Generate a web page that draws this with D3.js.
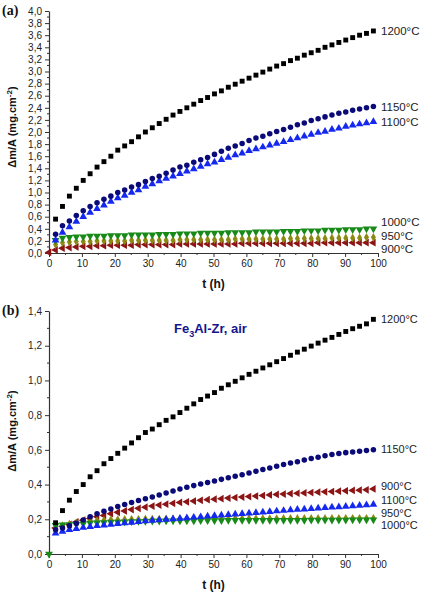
<!DOCTYPE html>
<html><head><meta charset="utf-8">
<script src="https://cdn.jsdelivr.net/npm/d3@7/dist/d3.min.js"></script>
<style>body{margin:0;background:#fff}svg{display:block}</style>
</head><body>
<script>
// time points (h); first entry is the origin point
const times = [0, 2.0,4.1,6.2,8.3,10.4,12.5,14.6,16.7,18.8,20.9,23.0,25.1,27.2,29.3,31.4,33.5,35.6,37.7,39.8,41.9,44.0,46.1,48.2,50.3,52.4,54.5,56.6,58.7,60.8,62.9,65.0,67.1,69.2,71.3,73.4,75.5,77.6,79.7,81.8,83.9,86.0,88.1,90.2,92.3,94.4,96.5,98.6];
const seriesNames = ["1200°C","1150°C","1100°C","1000°C","950°C","900°C"];

// Panel (a)
const a1200 = [null,0.56,0.77,0.94,1.07,1.20,1.31,1.42,1.51,1.60,1.70,1.77,1.84,1.92,2.00,2.07,2.14,2.21,2.28,2.34,2.40,2.46,2.52,2.57,2.63,2.68,2.74,2.79,2.84,2.89,2.94,2.99,3.04,3.09,3.13,3.18,3.22,3.27,3.31,3.35,3.40,3.44,3.48,3.52,3.56,3.60,3.63,3.67];
const a1150 = [null,0.31,0.45,0.53,0.62,0.70,0.77,0.83,0.89,0.94,1.00,1.04,1.09,1.13,1.18,1.23,1.27,1.32,1.37,1.42,1.45,1.50,1.54,1.58,1.63,1.68,1.73,1.77,1.81,1.86,1.90,1.93,1.97,2.01,2.04,2.08,2.12,2.15,2.19,2.22,2.25,2.28,2.31,2.33,2.36,2.38,2.40,2.42];
const a1100 = [null,0.21,0.34,0.43,0.52,0.60,0.67,0.73,0.79,0.85,0.91,0.95,1.00,1.04,1.10,1.14,1.19,1.23,1.27,1.31,1.35,1.39,1.43,1.47,1.50,1.54,1.58,1.62,1.65,1.69,1.72,1.75,1.78,1.81,1.84,1.87,1.90,1.93,1.96,1.99,2.01,2.04,2.06,2.09,2.11,2.13,2.15,2.17];
const a1000 = [null,0.21,0.25,0.26,0.27,0.27,0.28,0.28,0.28,0.29,0.29,0.29,0.30,0.30,0.30,0.30,0.31,0.31,0.31,0.32,0.32,0.32,0.33,0.33,0.33,0.33,0.34,0.34,0.34,0.34,0.35,0.35,0.35,0.35,0.36,0.36,0.36,0.37,0.37,0.37,0.38,0.38,0.38,0.39,0.39,0.39,0.40,0.40];
const a950 = [null,0.14,0.17,0.18,0.19,0.19,0.19,0.20,0.20,0.20,0.20,0.20,0.21,0.21,0.21,0.21,0.21,0.21,0.21,0.22,0.22,0.22,0.22,0.22,0.22,0.22,0.22,0.23,0.23,0.23,0.23,0.23,0.23,0.23,0.23,0.24,0.24,0.24,0.24,0.24,0.24,0.25,0.25,0.25,0.25,0.25,0.26,0.26];
const a900 = [0.01,0.05,0.08,0.09,0.10,0.11,0.11,0.12,0.12,0.13,0.13,0.13,0.13,0.14,0.14,0.14,0.14,0.14,0.14,0.15,0.15,0.15,0.15,0.15,0.15,0.15,0.15,0.15,0.16,0.16,0.16,0.16,0.16,0.16,0.16,0.16,0.16,0.16,0.16,0.17,0.17,0.17,0.17,0.17,0.17,0.17,0.17,0.17];
const aLabelY = [3.67, 2.42, 2.16, 0.51, 0.28, 0.06];
const aTicksY = [0,0.2,0.4,0.6,0.8,1.0,1.2,1.4,1.6,1.8,2.0,2.2,2.4,2.6,2.8,3.0,3.2,3.4,3.6,3.8,4.0];

// Panel (b)
const b1200 = [null,0.18,0.25,0.31,0.36,0.40,0.445,0.48,0.52,0.55,0.58,0.61,0.64,0.67,0.70,0.72,0.745,0.77,0.79,0.815,0.84,0.865,0.89,0.91,0.93,0.955,0.975,0.995,1.015,1.035,1.053,1.072,1.09,1.108,1.126,1.145,1.163,1.18,1.198,1.215,1.232,1.248,1.265,1.282,1.298,1.312,1.326,1.352];
const b1150 = [null,0.14,0.15,0.163,0.177,0.196,0.215,0.232,0.246,0.259,0.273,0.285,0.297,0.308,0.318,0.328,0.34,0.352,0.363,0.374,0.384,0.394,0.403,0.412,0.421,0.43,0.439,0.448,0.457,0.467,0.477,0.487,0.496,0.505,0.515,0.524,0.532,0.541,0.55,0.558,0.566,0.573,0.579,0.584,0.588,0.592,0.596,0.6];
const b1100 = [null,0.12,0.13,0.14,0.146,0.152,0.157,0.162,0.166,0.17,0.174,0.178,0.182,0.186,0.19,0.193,0.196,0.199,0.202,0.205,0.208,0.211,0.214,0.217,0.22,0.223,0.226,0.229,0.232,0.235,0.238,0.241,0.244,0.247,0.25,0.253,0.256,0.258,0.261,0.264,0.266,0.269,0.271,0.274,0.277,0.279,0.282,0.285];
const b1000 = [0.0,0.165,0.168,0.17,0.172,0.175,0.178,0.18,0.182,0.184,0.185,0.186,0.187,0.188,0.189,0.19,0.19,0.191,0.191,0.192,0.192,0.192,0.193,0.193,0.193,0.193,0.194,0.194,0.194,0.194,0.194,0.195,0.195,0.195,0.195,0.195,0.195,0.195,0.196,0.196,0.196,0.196,0.196,0.196,0.197,0.197,0.197,0.197];
const b950 = [null,0.148,0.163,0.172,0.18,0.186,0.19,0.193,0.195,0.197,0.198,0.199,0.2,0.2,0.201,0.201,0.201,0.202,0.202,0.202,0.202,0.203,0.203,0.203,0.203,0.203,0.203,0.204,0.204,0.204,0.204,0.204,0.204,0.204,0.205,0.205,0.205,0.205,0.205,0.205,0.205,0.205,0.206,0.206,0.206,0.206,0.206,0.206];
const b900 = [null,0.15,0.16,0.17,0.185,0.195,0.205,0.215,0.222,0.232,0.24,0.248,0.256,0.263,0.27,0.276,0.282,0.287,0.292,0.297,0.301,0.305,0.309,0.313,0.316,0.319,0.322,0.325,0.328,0.331,0.334,0.337,0.34,0.343,0.345,0.348,0.35,0.352,0.354,0.356,0.358,0.36,0.362,0.364,0.366,0.368,0.37,0.375];
const bLabelY = [1.354, 0.605, 0.308, 0.164, 0.236, 0.392];
const bTicksY = [0,0.2,0.4,0.6,0.8,1.0,1.2,1.4];

const xTicks = [0,10,20,30,40,50,60,70,80,90,100];

// styling
const colors = ["#000000","#0a0a78","#1428f0","#178a17","#8a8a12","#8c1414"];
const shapes = [d3.symbolSquare, d3.symbolCircle, d3.symbolTriangle, d3.symbolTriangle, d3.symbolDiamond, d3.symbolTriangle];
const rotations = [0, 0, 0, 180, 0, -90];
const sizes = [24, 24, 26, 26, 22, 26];
const drawOrder = [5,4,3,2,1,0];

const svg = d3.select("body").append("svg").attr("width",422).attr("height",592);
const fmt = v => d3.format(".1f")(v).replace(".", ",");

function panel(opts) {
  const x = d3.scaleLinear().domain([0,100]).range([49,378]);
  const y = d3.scaleLinear().domain([0, opts.yMax]).range([opts.y0, opts.y1]);
  const g = svg.append("g");

  // minor ticks
  const yMinor = d3.range(0.1, opts.yMax, 0.2);
  const xMinor = d3.range(5, 100, 10);
  g.append("g").selectAll("line").data(yMinor).join("line")
    .attr("x1", 47).attr("x2", 49).attr("y1", d=>y(d)).attr("y2", d=>y(d))
    .attr("stroke","#333").attr("stroke-width",1);
  g.append("g").selectAll("line").data(xMinor).join("line")
    .attr("x1", d=>x(d)).attr("x2", d=>x(d)).attr("y1", opts.y0).attr("y2", opts.y0+2)
    .attr("stroke","#333").attr("stroke-width",1);

  const ya = g.append("g").attr("transform","translate(49,0)")
    .call(d3.axisLeft(y).tickValues(opts.yTicks).tickFormat(fmt).tickSize(4).tickSizeOuter(0).tickPadding(3));
  const xa = g.append("g").attr("transform",`translate(0,${opts.y0})`)
    .call(d3.axisBottom(x).tickValues(xTicks).tickFormat(d3.format("d")).tickSize(4).tickSizeOuter(0).tickPadding(3));
  [ya, xa].forEach(a => {
    a.select(".domain").attr("stroke","#333").attr("stroke-width",1.2);
    a.selectAll(".tick line").attr("stroke","#333");
    a.selectAll("text").attr("font-family","Liberation Sans, Arial, sans-serif").attr("font-size",10).attr("fill","#222");
  });

  // series
  drawOrder.forEach(i => {
    const vals = opts.series[i];
    const pts = times.map((t,k)=>({t, v: vals[k]})).filter(p => p.v !== null);
    g.append("g").selectAll("path").data(pts).join("path")
      .attr("d", d3.symbol().type(shapes[i]).size(sizes[i]))
      .attr("transform", d => `translate(${x(d.t)},${y(d.v)}) rotate(${rotations[i]})`)
      .attr("fill", colors[i]);
  });

  // series labels
  g.append("g").selectAll("text").data(seriesNames).join("text")
    .attr("x", 381).attr("y", (d,i)=>y(opts.labelY[i]))
    .attr("dy","0.35em")
    .attr("font-family","Liberation Sans, Arial, sans-serif").attr("font-size",opts.labelSize).attr("fill","#222")
    .text(d=>d);

  // axis titles
  g.append("text").attr("x", 213.5).attr("y", opts.y0 + 35)
    .attr("text-anchor","middle").attr("font-family","Liberation Sans, Arial, sans-serif")
    .attr("font-weight","bold").attr("font-size",12).attr("fill","#111").text("t (h)");
  const yt = g.append("text").attr("transform",`translate(16,${opts.yTitleC}) rotate(-90)`)
    .attr("text-anchor","middle").attr("font-family","Liberation Sans, Arial, sans-serif")
    .attr("font-weight","bold").attr("font-size",11).attr("fill","#111");
  yt.append("tspan").text("\u0394m/A (mg.cm");
  yt.append("tspan").attr("dy",-4).attr("font-size",8).text("-2");
  yt.append("tspan").attr("dy",4).text(")");

  // panel letter
  g.append("text").attr("x", 2).attr("y", opts.letterY)
    .attr("font-family","Liberation Serif, Times New Roman, serif").attr("font-weight","bold")
    .attr("font-size",14).attr("fill","#111").text(opts.letter);
  return {x, y, g};
}

panel({yMax:4, y0:253, y1:11, yTicks:aTicksY, series:[a1200,a1150,a1100,a1000,a950,a900], labelY:aLabelY, labelSize:11.5, yTitleC:127, letter:"(a)", letterY:15});
panel({yMax:1.4, y0:554, y1:311, yTicks:bTicksY, series:[b1200,b1150,b1100,b1000,b950,b900], labelY:bLabelY, labelSize:11, yTitleC:431, letter:"(b)", letterY:315});

// in-plot title for panel (b)
const tt = svg.append("text").attr("x",174).attr("y",333)
  .attr("font-family","Liberation Sans, Arial, sans-serif").attr("font-weight","bold")
  .attr("font-size",13).attr("fill","#14148c");
tt.append("tspan").text("Fe");
tt.append("tspan").attr("dy",4).attr("font-size",9).text("3");
tt.append("tspan").attr("dy",-4).text("Al-Zr, air");
</script>
</body></html>
